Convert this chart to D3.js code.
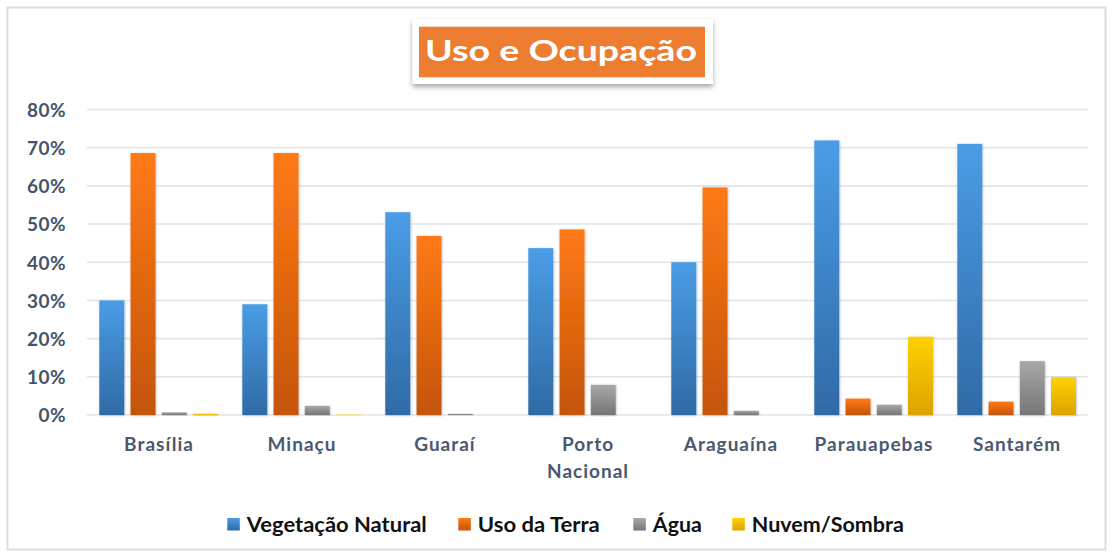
<!DOCTYPE html>
<html lang="pt">
<head>
<meta charset="utf-8">
<script src="https://cdn.jsdelivr.net/npm/d3@7"></script>
<style>
  html, body { margin: 0; padding: 0; background: #fff; }
  svg { display: block; font-family: Lato, "Open Sans", "DejaVu Sans", sans-serif; }
</style>
</head>
<body>
<svg id="chart" width="1113" height="557"></svg>
<script>
// Land use share per municipality (fraction of mapped area)
const cities = ["Brasília", "Minaçu", "Guaraí", "Porto Nacional", "Araguaína", "Parauapebas", "Santarém"];
const series = ["Vegetação Natural", "Uso da Terra", "Água", "Nuvem/Sombra"];
const vegetacao = [0.300, 0.290, 0.531, 0.437, 0.400, 0.719, 0.710];
const usoTerra  = [0.686, 0.686, 0.469, 0.486, 0.596, 0.043, 0.035];
const agua      = [0.007, 0.024, 0.003, 0.079, 0.011, 0.027, 0.141];
const nuvem     = [0.003, 0.001, 0.000, 0.000, 0.000, 0.205, 0.099];
const yTicks = [0, 0.1, 0.2, 0.3, 0.4, 0.5, 0.6, 0.7, 0.8];
const title = "Uso e Ocupação";

const values = [vegetacao, usoTerra, agua, nuvem];
const rows = cities.map((c, i) => ({ city: c, vals: series.map((s, k) => ({ key: s, value: values[k][i] })) }));

// gradient stops (top, bottom) for each series
const grad = {
  "Vegetação Natural": ["#4a9de6", "#2f6aa6"],
  "Uso da Terra": ["#ff7a14", "#c4540c"],
  "Água": ["#a8a8a8", "#767676"],
  "Nuvem/Sombra": ["#ffd200", "#dca300"]
};

const svg = d3.select("#chart");
const defs = svg.append("defs");
series.forEach((s, i) => {
  const g = defs.append("linearGradient").attr("id", "g" + i)
    .attr("x1", 0).attr("y1", 0).attr("x2", 0).attr("y2", 1);
  g.append("stop").attr("offset", "0%").attr("stop-color", grad[s][0]);
  g.append("stop").attr("offset", "100%").attr("stop-color", grad[s][1]);
});
const sh = defs.append("filter").attr("id", "barShadow")
  .attr("x", "-20%").attr("y", "-5%").attr("width", "140%").attr("height", "110%");
sh.append("feDropShadow").attr("dx", 0.6).attr("dy", 0.6).attr("stdDeviation", 0.9)
  .attr("flood-color", "#000").attr("flood-opacity", 0.25);
const boxSh = defs.append("filter").attr("id", "boxShadow")
  .attr("x", "-10%").attr("y", "-20%").attr("width", "120%").attr("height", "150%");
boxSh.append("feDropShadow").attr("dx", 0).attr("dy", 3).attr("stdDeviation", 2.5)
  .attr("flood-color", "#000").attr("flood-opacity", 0.35);

// chart frame
svg.append("rect").attr("x", 7.5).attr("y", 7.5).attr("width", 1098).attr("height", 542)
  .attr("fill", "#fff").attr("stroke", "#d9dde4").attr("stroke-width", 2);

// scales
const x0 = d3.scaleBand().domain(cities).range([87, 1088]).padding(0);
const x1 = d3.scaleBand().domain(series).range([12.3, 131]).paddingInner(0.2);
const y = d3.scaleLinear().domain([0, 0.8]).range([415, 109.5]);

// gridlines
svg.append("g").selectAll("line").data(yTicks).join("line")
  .attr("x1", 87).attr("x2", 1088)
  .attr("y1", d => y(d)).attr("y2", d => y(d))
  .attr("stroke", "#e1e4ea").attr("stroke-width", 1.6);

// y axis labels
const yAxis = svg.append("g").attr("transform", "translate(66,0)")
  .call(d3.axisLeft(y).tickValues(yTicks).tickFormat(d3.format(".0%")).tickSize(0).tickPadding(0));
yAxis.select(".domain").remove();
yAxis.selectAll("text")
  .attr("font-family", "Lato, sans-serif").attr("font-weight", 700)
  .attr("font-size", 19).attr("fill", "#44546a").attr("dy", "0.36em")
  .attr("letter-spacing", 0.5);

// bars
const groups = svg.append("g").selectAll("g").data(rows).join("g")
  .attr("transform", d => `translate(${x0(d.city)},0)`);
groups.selectAll("rect").data(d => d.vals).join("rect")
  .attr("x", d => x1(d.key))
  .attr("width", x1.bandwidth())
  .attr("y", d => y(d.value))
  .attr("height", d => y(0) - y(d.value))
  .attr("fill", d => `url(#g${series.indexOf(d.key)})`)
  .attr("filter", "url(#barShadow)");

// category labels (wrapped on spaces when the name is long)
const xLab = svg.append("g");
cities.forEach(c => {
  const lines = c.length > 12 ? c.split(" ") : [c];
  const cx = x0(c) + x0.bandwidth() / 2;
  const t = xLab.append("text")
    .attr("x", cx).attr("y", 451)
    .attr("text-anchor", "middle")
    .attr("font-family", "Lato, sans-serif").attr("font-weight", 700)
    .attr("font-size", 19).attr("letter-spacing", 1).attr("fill", "#4a5870");
  lines.forEach((ln, i) => t.append("tspan")
    .attr("x", cx + 0.5).attr("dy", i ? 27 : 0).text(ln));
});

// legend: marker x and text width for each entry
const legendX = [227.3, 458.3, 633.3, 732.3];
const legendW = [180, 122, 49, 152];
const legend = svg.append("g");
series.forEach((s, i) => {
  legend.append("rect").attr("x", legendX[i]).attr("y", 518).attr("width", 12.5).attr("height", 12.5)
    .attr("fill", `url(#g${i})`);
  legend.append("text").attr("x", legendX[i] + 19.5).attr("y", 531.5)
    .attr("font-family", "Lato, sans-serif").attr("font-weight", 700)
    .attr("font-size", 20).attr("fill", "#111")
    .attr("textLength", legendW[i]).attr("lengthAdjust", "spacingAndGlyphs")
    .text(s);
});

// title box
svg.append("rect").attr("x", 412.5).attr("y", 19).attr("width", 300.5).attr("height", 65)
  .attr("fill", "#fff").attr("filter", "url(#boxShadow)");
svg.append("rect").attr("x", 419).attr("y", 26.7).attr("width", 286).attr("height", 50.6)
  .attr("fill", "#ed7d31");
svg.append("text").attr("x", 425).attr("y", 61)
  .attr("font-family", "Lato, sans-serif").attr("font-weight", 700)
  .attr("font-size", 29).attr("fill", "#fff")
  .attr("textLength", 272).attr("lengthAdjust", "spacingAndGlyphs")
  .text(title);
</script>
</body>
</html>
